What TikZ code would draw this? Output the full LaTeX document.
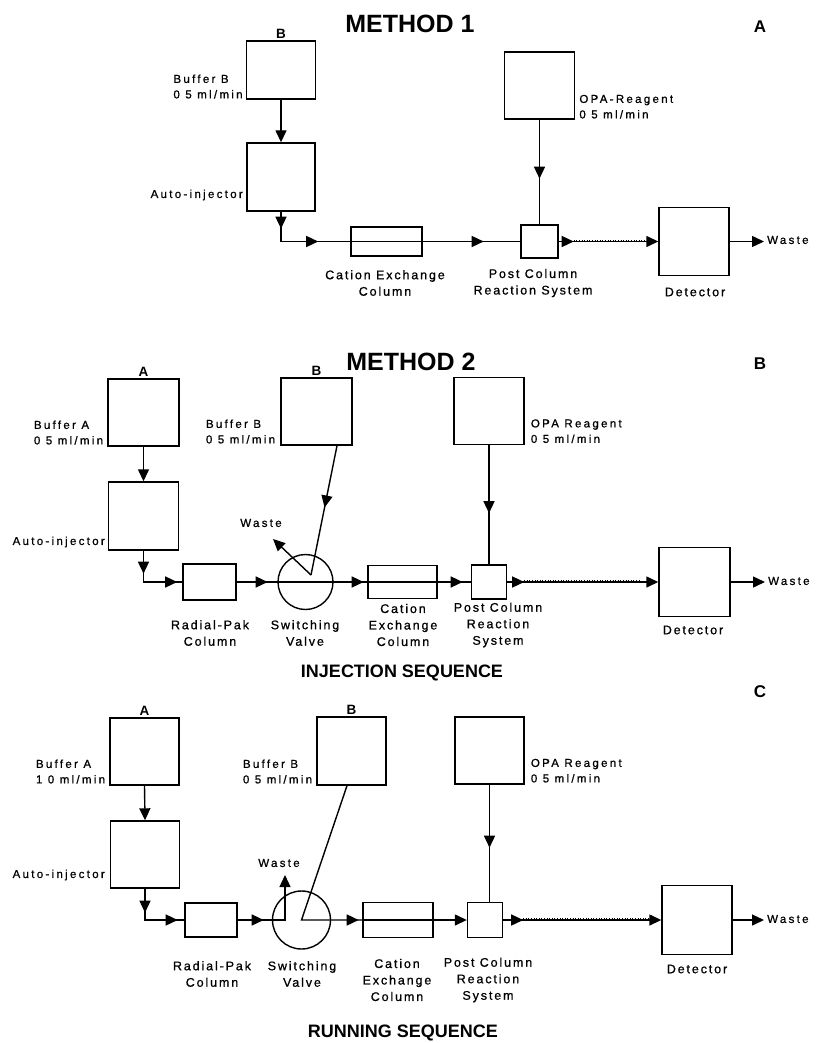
\documentclass[tikz,border=0pt]{standalone}
\usepackage{fontspec}
\setmainfont{Liberation Sans}
\newfontfamily\lsp[LetterSpace=15,FakeBold=0.8]{Liberation Sans}
\newfontfamily\ssp[LetterSpace=20,FakeBold=0.8]{Liberation Sans}
\usetikzlibrary{arrows.meta,decorations.markings,calc}
\begin{document}
\begin{tikzpicture}[x=1pt,y=-1pt,
  >={Triangle[length=12pt,width=11pt]},
  ln/.style={line width=1.4pt},
  bx/.style 2 args={draw,line width=1.4pt,inner sep=0pt,minimum width=#1pt,minimum height=#2pt},
  vlv/.style={draw,line width=1.4pt,circle,inner sep=0pt,minimum size=#1pt},
  mk/.style={postaction={decorate,decoration={markings,mark=at position #1 with {\arrow{>}}}}},
  coil/.style={line width=2.8pt,dash pattern=on 1pt off 1.6pt},
  sm/.style={font=\ssp\fontsize{11.5}{15.5}\selectfont,align=left,inner sep=0pt},
  lab/.style={font=\lsp\fontsize{12.5}{16.5}\selectfont,align=center,inner sep=0pt},
  ttl/.style={font=\bfseries\fontsize{25}{30}\selectfont,inner sep=0pt},
  seq/.style={font=\bfseries\fontsize{18}{22}\selectfont,inner sep=0pt},
  plet/.style={font=\bfseries\fontsize{17}{20}\selectfont,inner sep=0pt},
  blet/.style={font=\bfseries\fontsize{13.5}{16}\selectfont,inner sep=0pt,anchor=south}
]
\fill[white] (0,0) rectangle (816,1043);
\useasboundingbox (0,0) rectangle (816,1043);

% ================= Panel A =================
\node[ttl] (t1) at (410,24) {METHOD 1};
\node[plet] (pA) at (760,27) {A};
\node[bx={69}{58}] (bufB1) at (281,70) {};
\node[blet] (lb1) at ($(bufB1.north)+(0,-2)$) {B};
\node[sm,anchor=south east] (tb1) at ($(bufB1.south west)+(-3,-1)$) {Buffer B\\0 5 ml/min};
\node[bx={68}{68}] (inj1) at (281,177) {};
\node[sm,anchor=east] (ti1) at (243,195) {Auto-injector};
\node[bx={71}{29}] (col1) at (386.5,241.5) {};
\node[bx={37}{33}] (pcr1) at (539.5,241.5) {};
\node[bx={70}{67}] (opa1) at (539.5,85.5) {};
\node[sm,anchor=south west] (to1) at ($(opa1.south east)+(4,-1)$) {OPA-Reagent\\0 5 ml/min};
\node[bx={70}{68}] (det1) at (694,241.5) {};
\node[sm,anchor=west] (w1) at (767,240) {Waste};
\node[lab] (lc1) at (385,283) {Cation Exchange\\Column};
\node[lab] (lp1) at (533,283) {Post Column\\Reaction System};
\node[lab] (ld1) at (695,292) {Detector};

\draw[ln,->] (bufB1.south) -- (inj1.north);
\draw[ln,mk=17pt,mk=67pt] (inj1.south) -- (inj1.south |- col1.west) -- (col1.west);
\draw[ln] (col1.west) -- (col1.east);
\draw[ln,mk=61pt] (col1.east) -- (pcr1.west);
\draw[ln,mk=59pt] (opa1.south) -- (pcr1.north);
\draw[ln,mk=15pt,->] (pcr1.east) -- (det1.west);
\draw[coil] ($(pcr1.east)+(15,-0.5)$) -- ($(det1.west)+(-11,-0.5)$);
\draw[ln,->,shorten >=3pt] (det1.east) -- (det1.east -| w1.west);

% ================= Panel B =================
\node[ttl] (t2) at (411,362) {METHOD 2};
\node[plet] (pB) at (760,364) {B};
\node[bx={71}{67}] (bufA2) at (143.5,412.5) {};
\node[blet] (la2) at ($(bufA2.north)+(0,-2)$) {A};
\node[sm,anchor=south east] (ta2) at ($(bufA2.south west)+(-4,-2)$) {Buffer A\\0 5 ml/min};
\node[bx={70}{68}] (inj2) at (143.5,516) {};
\node[sm,anchor=east] (ti2) at (105,542) {Auto-injector};
\node[bx={53}{36}] (rp2) at (209.5,582) {};
\node[vlv=55] (valve2) at (305.5,582) {};
\node[bx={69}{33}] (col2) at (402.5,582) {};
\node[bx={35}{34}] (pcr2) at (489,582) {};
\node[bx={70}{67}] (opa2) at (489,411) {};
\node[sm,anchor=south west] (to2) at ($(opa2.south east)+(6,-2)$) {OPA Reagent\\0 5 ml/min};
\node[bx={71}{67}] (bufB2) at (316.5,411.5) {};
\node[blet] (lb2) at ($(bufB2.north)+(0,-2)$) {B};
\node[sm,anchor=south east] (tb2) at ($(bufB2.south west)+(-5,-2)$) {Buffer B\\0 5 ml/min};
\node[bx={71}{69}] (det2) at (694.5,582) {};
\node[sm,anchor=west] (w2) at (768,581) {Waste};
\node[sm] (wv2) at (261,523) {Waste};
\coordinate (vB2) at (311,575);
\coordinate (wt2) at (273,539);
\node[lab] (lr2) at (210,633) {Radial-Pak\\Column};
\node[lab] (ls2) at (305,633) {Switching\\Valve};
\node[lab] (lc2) at (403,625) {Cation\\Exchange\\Column};
\node[lab] (lp2) at (498,625) {Post Column\\Reaction\\System};
\node[lab] (ld2) at (693,630) {Detector};
\node[seq] (s2) at (402,673) {INJECTION SEQUENCE};

\draw[ln,->] (bufA2.south) -- (inj2.north);
\draw[ln,mk=23pt,mk=65pt] (inj2.south) -- (inj2.south |- rp2.west) -- (rp2.west);
\draw[ln,mk=31pt,mk=127pt] (rp2.east) -- (col2.west);
\draw[ln] (col2.west) -- (col2.east);
\draw[ln,mk=25pt] (col2.east) -- (pcr2.west);
\draw[ln,mk=68pt] (opa2.south) -- (pcr2.north);
\draw[ln,mk=17pt,->] (pcr2.east) -- (det2.west);
\draw[coil] ($(pcr2.east)+(17,-0.5)$) -- ($(det2.west)+(-19,-0.5)$);
\draw[ln,->,shorten >=3pt] (det2.east) -- (det2.east -| w2.west);
\draw[ln,mk=63pt] ($(bufB2.south)+(20.5,0)$) -- (vB2);
\draw[ln,->] (vB2) -- (wt2);

% ================= Panel C =================
\node[plet] (pC) at (760,692) {C};
\node[bx={69}{67}] (bufA3) at (144.5,751.5) {};
\node[blet] (la3) at ($(bufA3.north)+(0,-2)$) {A};
\node[sm,anchor=south east] (ta3) at ($(bufA3.south west)+(-4,-2)$) {Buffer A\\1 0 ml/min};
\node[bx={69}{67}] (inj3) at (145,854.5) {};
\node[sm,anchor=east] (ti3) at (105,875) {Auto-injector};
\node[bx={52}{34}] (rp3) at (211,920) {};
\node[vlv=58] (valve3) at (301.5,920) {};
\node[bx={70}{35}] (col3) at (398,920) {};
\node[bx={35}{35}] (pcr3) at (485,920) {};
\node[bx={69}{67}] (opa3) at (489.5,750.5) {};
\node[sm,anchor=south west] (to3) at ($(opa3.south east)+(6,-2)$) {OPA Reagent\\0 5 ml/min};
\node[bx={69}{68}] (bufB3) at (351.5,751) {};
\node[blet] (lb3) at ($(bufB3.north)+(0,-2)$) {B};
\node[sm,anchor=south east] (tb3) at ($(bufB3.south west)+(-4,-2)$) {Buffer B\\0 5 ml/min};
\node[bx={70}{69}] (det3) at (697,920) {};
\node[sm,anchor=west] (w3) at (767,919) {Waste};
\node[sm] (wv3) at (279,863) {Waste};
\coordinate (vc3) at (285,920);
\coordinate (wt3) at (285,875);
\node[lab] (lr3) at (212,974) {Radial-Pak\\Column};
\node[lab] (ls3) at (302,974) {Switching\\Valve};
\node[lab] (lc3) at (397,980) {Cation\\Exchange\\Column};
\node[lab] (lp3) at (488,980) {Post Column\\Reaction\\System};
\node[lab] (ld3) at (697,969) {Detector};
\node[seq] (s3) at (403,1033) {RUNNING SEQUENCE};

\draw[ln,->] (bufA3.south) -- (inj3.north);
\draw[ln,mk=24pt,mk=64pt] (inj3.south) -- (inj3.south |- rp3.west) -- (rp3.west);
\draw[ln,mk=26pt,->] (rp3.east) -- (vc3) -- (wt3);
\draw[ln,mk=199pt] ($(bufB3.south)+(-4.5,0)$) -- (valve3.center) -- (col3.west);
\draw[ln] (col3.west) -- (col3.east);
\draw[ln,->] (col3.east) -- (pcr3.west);
\draw[ln,mk=63pt] (opa3.south) -- (opa3.south |- pcr3.north);
\draw[ln,mk=20pt,->] (pcr3.east) -- (det3.west);
\draw[coil] ($(pcr3.east)+(20,-0.5)$) -- ($(det3.west)+(-12,-0.5)$);
\draw[ln,->,shorten >=3pt] (det3.east) -- (det3.east -| w3.west);
\end{tikzpicture}
\end{document}
